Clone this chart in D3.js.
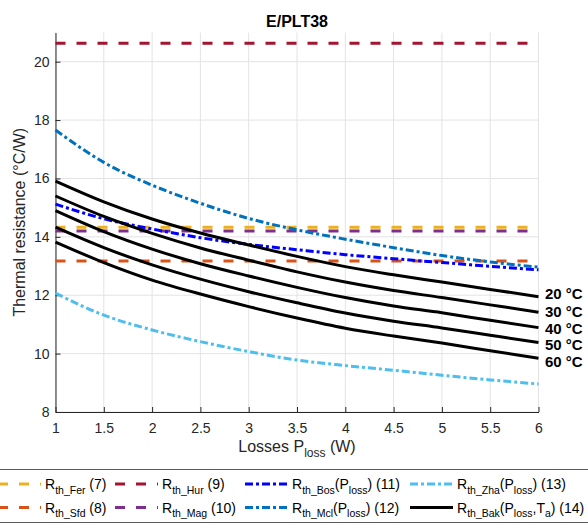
<!DOCTYPE html>
<html>
<head>
<meta charset="utf-8">
<script src="https://cdn.jsdelivr.net/npm/d3@7"></script>
<style>
  body { margin: 0; background: #fff; }
  svg { display: block; font-family: "Liberation Sans", Arial, sans-serif; }
</style>
</head>
<body>
<div id="chart"></div>
<script>
// Losses (W) where the curves were read
const pLoss = [1, 1.5, 2, 2.5, 3, 3.5, 4, 4.5, 5, 5.5, 6];

// Constant models (°C/W)
const rthFer = 14.33;
const rthSfd = 13.17;
const rthHur = 20.63;
const rthMag = 14.2;

// Loss dependent models (°C/W)
const rthBos = [15.12, 14.62, 14.27, 13.97, 13.74, 13.56, 13.39, 13.25, 13.12, 12.99, 12.87];
const rthMcl = [17.66, 16.55, 15.77, 15.15, 14.63, 14.24, 13.92, 13.63, 13.36, 13.14, 12.96];
const rthZha = [12.07, 11.32, 10.81, 10.41, 10.07, 9.78, 9.59, 9.43, 9.26, 9.10, 8.96];

// Bak model, one curve per ambient temperature
const ambientLabels = ["20 °C", "30 °C", "40 °C", "50 °C", "60 °C"];
const rthBak20 = [15.91, 15.20, 14.61, 14.13, 13.72, 13.33, 12.98, 12.70, 12.45, 12.20, 11.95];
const rthBak30 = [15.40, 14.70, 14.12, 13.62, 13.20, 12.80, 12.45, 12.16, 11.92, 11.67, 11.42];
const rthBak40 = [14.90, 14.18, 13.58, 13.08, 12.66, 12.27, 11.92, 11.63, 11.40, 11.14, 10.89];
const rthBak50 = [14.33, 13.63, 13.04, 12.55, 12.12, 11.74, 11.39, 11.11, 10.88, 10.63, 10.38];
const rthBak60 = [13.82, 13.12, 12.52, 12.04, 11.61, 11.22, 10.87, 10.60, 10.36, 10.10, 9.84];
const labelValues = [12.07, 11.44, 10.87, 10.30, 9.72];

// Axis ticks
const xTicks = [1, 1.5, 2, 2.5, 3, 3.5, 4, 4.5, 5, 5.5, 6];
const yTicks = [8, 10, 12, 14, 16, 18, 20];

/*******************************/
/*    Declare the constants    */
/*******************************/
const width = 588;
const height = 523;
const plot = {left: 55.5, right: 538.5, top: 32.5, bottom: 412};
const axisColor = "#262626";
const gridColor = "#e3e3e3";
const dashed = "10,11";
const dashDot = "8,3,3,3";

const svg = d3.select("#chart")
  .append("svg")
    .attr("width", width)
    .attr("height", height);

const xScale = d3.scaleLinear().domain([1, 6]).range([plot.left, plot.right]);
const yScale = d3.scaleLinear().domain([8, 21]).range([plot.bottom, plot.top]);

/*******************************/
/*    Grid and axes            */
/*******************************/
const grid = svg.append("g")
  .attr("stroke", gridColor)
  .attr("stroke-width", 1);

grid.selectAll(".vgrid")
  .data(xTicks)
  .join("line")
    .attr("x1", d => xScale(d)).attr("x2", d => xScale(d))
    .attr("y1", plot.top).attr("y2", plot.bottom);

grid.selectAll(".hgrid")
  .data(yTicks)
  .join("line")
    .attr("x1", plot.left).attr("x2", plot.right)
    .attr("y1", d => yScale(d)).attr("y2", d => yScale(d));

const bottomAxis = d3.axisBottom(xScale)
  .tickValues(xTicks)
  .tickFormat(d3.format("~g"))
  .tickSize(-5)
  .tickSizeOuter(0)
  .tickPadding(11);

const leftAxis = d3.axisLeft(yScale)
  .tickValues(yTicks)
  .tickSize(-5)
  .tickSizeOuter(0)
  .tickPadding(6);

const xAxisG = svg.append("g")
  .attr("transform", `translate(0, ${plot.bottom})`)
  .call(bottomAxis);

const yAxisG = svg.append("g")
  .attr("transform", `translate(${plot.left}, 0)`)
  .call(leftAxis);

[xAxisG, yAxisG].forEach(g => {
  g.select(".domain").attr("stroke", axisColor).attr("stroke-width", 1);
  g.selectAll(".tick line").attr("stroke", axisColor);
  g.selectAll(".tick text")
    .attr("fill", axisColor)
    .style("font-size", "14px")
    .style("font-family", "Liberation Sans, Arial, sans-serif");
});

/*******************************/
/*    Labels                   */
/*******************************/
svg.append("text")
  .attr("x", (plot.left + plot.right) / 2)
  .attr("y", 26.5)
  .attr("text-anchor", "middle")
  .attr("font-size", 16)
  .attr("font-weight", "bold")
  .attr("fill", "#000")
  .text("E/PLT38");

svg.append("text")
  .attr("transform", `translate(25, ${(plot.top + plot.bottom) / 2}) rotate(-90)`)
  .attr("text-anchor", "middle")
  .attr("font-size", 16)
  .attr("fill", axisColor)
  .text("Thermal resistance (°C/W)");

const xLabel = svg.append("text")
  .attr("x", (plot.left + plot.right) / 2)
  .attr("y", 452)
  .attr("text-anchor", "middle")
  .attr("font-size", 16)
  .attr("fill", axisColor);
xLabel.append("tspan").text("Losses P");
xLabel.append("tspan").attr("dy", 5).attr("font-size", 12).text("loss");
xLabel.append("tspan").attr("dy", -5).text(" (W)");

/*******************************/
/*    Draw the curves          */
/*******************************/
const line = d3.line()
  .x(d => xScale(d[0]))
  .y(d => yScale(d[1]))
  .curve(d3.curveMonotoneX);

const constSeries = [
  {value: rthFer, color: "#EDB120"},
  {value: rthSfd, color: "#D95319"},
  {value: rthHur, color: "#A2142F"},
  {value: rthMag, color: "#7E2F8E"}
];

constSeries.forEach(s => {
  svg.append("path")
    .attr("d", line([[1, s.value], [6, s.value]]))
    .attr("fill", "none")
    .attr("stroke", s.color)
    .attr("stroke-width", 3)
    .attr("stroke-dasharray", dashed);
});

const curveSeries = [
  {values: rthBos, color: "#0000FF"},
  {values: rthMcl, color: "#0072BD"},
  {values: rthZha, color: "#4DBEEE"}
];

curveSeries.forEach(s => {
  svg.append("path")
    .attr("d", line(pLoss.map((p, i) => [p, s.values[i]])))
    .attr("fill", "none")
    .attr("stroke", s.color)
    .attr("stroke-width", 3)
    .attr("stroke-dasharray", dashDot);
});

const bakSeries = [rthBak20, rthBak30, rthBak40, rthBak50, rthBak60];

bakSeries.forEach((values, i) => {
  svg.append("path")
    .attr("d", line(pLoss.map((p, j) => [p, values[j]])))
    .attr("fill", "none")
    .attr("stroke", "#000")
    .attr("stroke-width", 3);

  svg.append("text")
    .attr("x", plot.right + 6.5)
    .attr("y", yScale(labelValues[i]))
    .attr("dy", "0.36em")
    .attr("font-size", 15)
    .attr("font-weight", "bold")
    .attr("fill", "#000")
    .text(ambientLabels[i]);
});

/*******************************/
/*    Legend                   */
/*******************************/
const legendEntries = [
  {parts: [["R"], ["th_Fer", 1], [" (7)"]], color: "#EDB120", dash: dashed},
  {parts: [["R"], ["th_Sfd", 1], [" (8)"]], color: "#D95319", dash: dashed},
  {parts: [["R"], ["th_Hur", 1], [" (9)"]], color: "#A2142F", dash: dashed},
  {parts: [["R"], ["th_Mag", 1], [" (10)"]], color: "#7E2F8E", dash: dashed},
  {parts: [["R"], ["th_Bos", 1], ["(P"], ["loss", 1], [") (11)"]], color: "#0000FF", dash: dashDot},
  {parts: [["R"], ["th_Mcl", 1], ["(P"], ["loss", 1], [") (12)"]], color: "#0072BD", dash: dashDot},
  {parts: [["R"], ["th_Zha", 1], ["(P"], ["loss", 1], [") (13)"]], color: "#4DBEEE", dash: dashDot},
  {parts: [["R"], ["th_Bak", 1], ["(P"], ["loss", 1], [",T"], ["a", 1], [") (14)"]], color: "#000", dash: null}
];

const legendCols = [-2, 115, 245, 410];
const legendRows = [484, 507.5];

svg.append("rect")
  .attr("x", -2)
  .attr("y", 469.5)
  .attr("width", width + 4)
  .attr("height", 53)
  .attr("fill", "#fff")
  .attr("stroke", axisColor)
  .attr("stroke-width", 0.75);

legendEntries.forEach((entry, i) => {
  const x0 = legendCols[Math.floor(i / 2)];
  const y0 = legendRows[i % 2];

  svg.append("line")
    .attr("x1", x0).attr("x2", x0 + 43)
    .attr("y1", y0).attr("y2", y0)
    .attr("stroke", entry.color)
    .attr("stroke-width", 3)
    .attr("stroke-dasharray", entry.dash);

  const txt = svg.append("text")
    .attr("x", x0 + 47)
    .attr("y", y0 + 5)
    .attr("font-size", 14)
    .attr("fill", "#000");

  let shifted = false;
  entry.parts.forEach(([s, sub]) => {
    const ts = txt.append("tspan").text(s);
    if (sub && !shifted) { ts.attr("dy", 4.5).attr("font-size", 10.5); shifted = true; }
    else if (sub) { ts.attr("font-size", 10.5); }
    else if (shifted) { ts.attr("dy", -4.5); shifted = false; }
  });
});
</script>
</body>
</html>
